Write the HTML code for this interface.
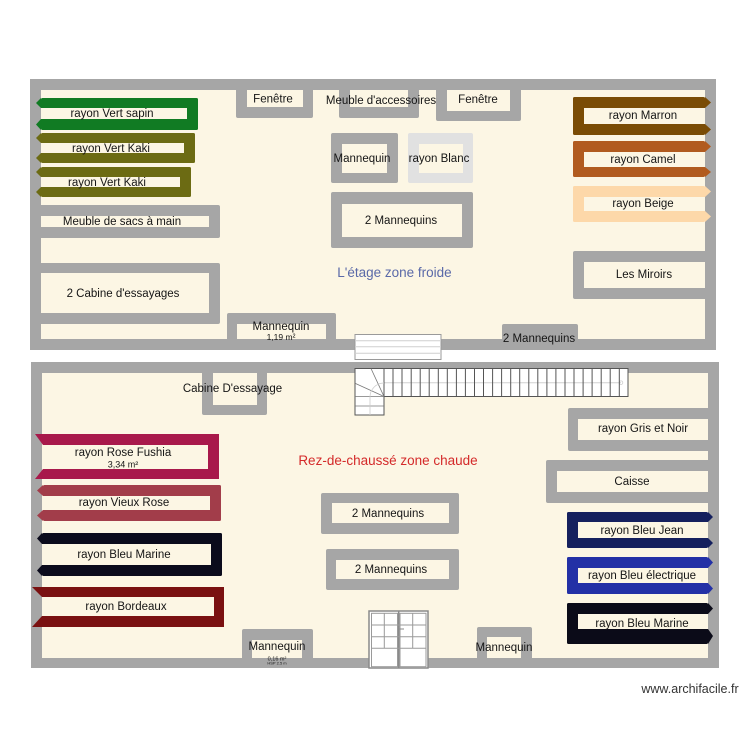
<!DOCTYPE html>
<html><head><meta charset="utf-8"><style>
html,body{margin:0;padding:0;background:#fff;}
svg{display:block;}
text{font-family:"Liberation Sans",Arial,sans-serif;fill:#151515;text-anchor:middle;}
</style></head><body>
<svg width="750" height="750" viewBox="0 0 750 750" xmlns="http://www.w3.org/2000/svg">
<rect width="750" height="750" fill="#fff"/>
<!-- UPPER FLOOR -->
<rect x="30" y="79" width="686" height="271" fill="#a6a6a6"/>
<rect x="41" y="90" width="664" height="249" fill="#fcf6e4"/>
<!-- windows / furniture top -->
<rect x="236" y="79" width="77" height="39" rx="2" fill="#a6a6a6"/>
<rect x="247" y="90" width="56" height="17" fill="#fcf6e4"/>
<text x="273" y="102.5" font-size="11.5">Fenêtre</text>
<rect x="339" y="79" width="80" height="39" rx="2" fill="#a6a6a6"/>
<rect x="350" y="90" width="58" height="17" fill="#fcf6e4"/>
<text x="381" y="104" font-size="11.5">Meuble d'accessoires</text>
<rect x="436" y="79" width="85" height="42" rx="2" fill="#a6a6a6"/>
<rect x="447" y="90" width="63" height="21" fill="#fcf6e4"/>
<text x="478" y="103" font-size="11.5">Fenêtre</text>
<!-- center -->
<rect x="331" y="133" width="67" height="50" rx="2" fill="#a6a6a6"/>
<rect x="342" y="144" width="45" height="29" fill="#fcf6e4"/>
<text x="362" y="162" font-size="11.5">Mannequin</text>
<rect x="408" y="133" width="65" height="50" rx="2" fill="#e1e1e1"/>
<rect x="419" y="144" width="44" height="29" fill="#fcf6e4"/>
<text x="439" y="162" font-size="11.5">rayon Blanc</text>
<rect x="331" y="192" width="142" height="56" rx="2" fill="#a6a6a6"/>
<rect x="342" y="204" width="120" height="33" fill="#fcf6e4"/>
<text x="401" y="224" font-size="11.5">2 Mannequins</text>
<!-- left rayons -->
<rect x="41" y="98" width="157" height="32" rx="1.5" fill="#117b23"/>
<rect x="41" y="108" width="146" height="11" fill="#fcf6e4"/>
<polygon points="41,98 36,103 41,108" fill="#117b23"/><polygon points="41,119 36,124.5 41,130" fill="#117b23"/>
<text x="112" y="117" font-size="11.5">rayon Vert sapin</text>
<rect x="41" y="133" width="154" height="30" rx="1.5" fill="#6c6b13"/>
<rect x="41" y="143" width="143" height="10" fill="#fcf6e4"/>
<polygon points="41,133 36,138 41,143" fill="#6c6b13"/><polygon points="41,153 36,158 41,163" fill="#6c6b13"/>
<text x="111" y="152" font-size="11.5">rayon Vert Kaki</text>
<rect x="41" y="167" width="150" height="30" rx="1.5" fill="#6c6b13"/>
<rect x="41" y="177" width="139" height="10" fill="#fcf6e4"/>
<polygon points="41,167 36,172 41,177" fill="#6c6b13"/><polygon points="41,187 36,192 41,197" fill="#6c6b13"/>
<text x="107" y="186" font-size="11.5">rayon Vert Kaki</text>
<rect x="30" y="205" width="190" height="33" rx="2" fill="#a6a6a6"/>
<rect x="41" y="216" width="168" height="11" fill="#fcf6e4"/>
<text x="122" y="225" font-size="11.5">Meuble de sacs à main</text>
<rect x="30" y="263" width="190" height="61" rx="2" fill="#a6a6a6"/>
<rect x="41" y="273" width="168" height="40" fill="#fcf6e4"/>
<text x="123" y="297" font-size="11.5">2 Cabine d'essayages</text>
<rect x="227" y="313" width="109" height="30" rx="2" fill="#a6a6a6"/>
<rect x="237" y="324" width="89" height="15" fill="#fcf6e4"/>
<text x="281" y="330" font-size="11.5">Mannequin</text>
<text x="281" y="340" font-size="8.5">1,19 m²</text>
<text x="394.5" y="277" font-size="13.5" style="fill:#5a69a8">L'étage zone froide</text>
<!-- right rayons -->
<rect x="573" y="97" width="132" height="38" rx="1.5" fill="#7a4c05"/>
<rect x="584" y="108" width="121" height="16" fill="#fcf6e4"/>
<polygon points="705,97 711,102.5 705,108" fill="#7a4c05"/><polygon points="705,124 711,129.5 705,135" fill="#7a4c05"/>
<text x="643" y="119" font-size="11.5">rayon Marron</text>
<rect x="573" y="141" width="132" height="36" rx="1.5" fill="#b15b1f"/>
<rect x="584" y="152" width="121" height="15" fill="#fcf6e4"/>
<polygon points="705,141 711,146.5 705,152" fill="#b15b1f"/><polygon points="705,167 711,172 705,177" fill="#b15b1f"/>
<text x="643" y="163" font-size="11.5">rayon Camel</text>
<rect x="573" y="186" width="132" height="36" rx="1.5" fill="#fdd8a9"/>
<rect x="584" y="197" width="121" height="14" fill="#fcf6e4"/>
<polygon points="705,186 711,191.5 705,197" fill="#fdd8a9"/><polygon points="705,211 711,216.5 705,222" fill="#fdd8a9"/>
<text x="643" y="207" font-size="11.5">rayon Beige</text>
<rect x="573" y="251" width="143" height="48" rx="2" fill="#a6a6a6"/>
<rect x="584" y="262" width="121" height="26" fill="#fcf6e4"/>
<text x="644" y="278" font-size="11.5">Les Miroirs</text>
<rect x="502" y="324" width="76" height="19" rx="2" fill="#a6a6a6"/>
<text x="539" y="342" font-size="11.5">2 Mannequins</text>
<!-- LOWER FLOOR -->
<rect x="31" y="362" width="688" height="306" fill="#a6a6a6"/>
<rect x="42" y="373" width="666" height="285" fill="#fcf6e4"/>
<!-- top stairs block -->
<rect x="355" y="334.5" width="86" height="25" fill="#fff" stroke="#9a9a9a" stroke-width="1"/>
<g stroke="#cfcfcf" stroke-width="1"><line x1="355" y1="340.7" x2="441" y2="340.7"/><line x1="355" y1="346.7" x2="441" y2="346.7"/><line x1="355" y1="353.3" x2="441" y2="353.3"/></g>
<!-- stairs -->
<rect x="384" y="368.5" width="244" height="28" fill="#fff" stroke="#555" stroke-width="1"/>
<line x1="384" y1="382.7" x2="621" y2="382.7" stroke="#d0d0d0" stroke-width="1"/>
<circle cx="621" cy="382.7" r="1.8" fill="none" stroke="#ccc" stroke-width="0.8"/>
<g stroke="#555" stroke-width="1">
<line x1="393" y1="368.5" x2="393" y2="396.5"/><line x1="402" y1="368.5" x2="402" y2="396.5"/><line x1="411.2" y1="368.5" x2="411.2" y2="396.5"/><line x1="420.2" y1="368.5" x2="420.2" y2="396.5"/><line x1="429.2" y1="368.5" x2="429.2" y2="396.5"/><line x1="438.3" y1="368.5" x2="438.3" y2="396.5"/><line x1="447.3" y1="368.5" x2="447.3" y2="396.5"/><line x1="456.4" y1="368.5" x2="456.4" y2="396.5"/><line x1="465.4" y1="368.5" x2="465.4" y2="396.5"/><line x1="474.5" y1="368.5" x2="474.5" y2="396.5"/><line x1="483.5" y1="368.5" x2="483.5" y2="396.5"/><line x1="492.6" y1="368.5" x2="492.6" y2="396.5"/><line x1="501.6" y1="368.5" x2="501.6" y2="396.5"/><line x1="510.7" y1="368.5" x2="510.7" y2="396.5"/><line x1="519.7" y1="368.5" x2="519.7" y2="396.5"/><line x1="528.8" y1="368.5" x2="528.8" y2="396.5"/><line x1="537.8" y1="368.5" x2="537.8" y2="396.5"/><line x1="546.9" y1="368.5" x2="546.9" y2="396.5"/><line x1="555.9" y1="368.5" x2="555.9" y2="396.5"/><line x1="565" y1="368.5" x2="565" y2="396.5"/><line x1="574" y1="368.5" x2="574" y2="396.5"/><line x1="583.1" y1="368.5" x2="583.1" y2="396.5"/><line x1="592.1" y1="368.5" x2="592.1" y2="396.5"/><line x1="601.2" y1="368.5" x2="601.2" y2="396.5"/><line x1="610.2" y1="368.5" x2="610.2" y2="396.5"/><line x1="619.3" y1="368.5" x2="619.3" y2="396.5"/>
</g>
<rect x="355" y="368.5" width="29" height="46.5" fill="#fff" stroke="#555" stroke-width="1"/>
<g stroke="#777" stroke-width="0.8">
<line x1="371" y1="368.5" x2="384" y2="396.5"/><line x1="355" y1="383.3" x2="384" y2="396.5"/>
<line x1="355" y1="396.5" x2="384" y2="396.5"/><line x1="355" y1="406" x2="384" y2="406"/>
</g>
<path d="M384,383 A14,14 0 0 0 370,397 L370,415" fill="none" stroke="#ccc" stroke-width="0.8"/>
<!-- lower left -->
<rect x="202" y="362" width="65" height="53" rx="2" fill="#a6a6a6"/>
<rect x="213" y="373" width="44" height="32" fill="#fcf6e4"/>
<text x="232.5" y="392" font-size="11.5">Cabine D'essayage</text>
<polygon points="35,434 219,434 219,479 35,479 43,469 43,445" fill="#a8194b"/>
<rect x="43" y="445" width="165" height="24" fill="#fcf6e4"/>
<text x="123" y="456" font-size="11.5">rayon Rose Fushia</text>
<text x="123" y="467.5" font-size="9">3,34 m²</text>
<rect x="43" y="485" width="178" height="36" rx="1.5" fill="#a23d4a"/>
<rect x="43" y="496" width="167" height="14" fill="#fcf6e4"/>
<polygon points="43,485 37,490.5 43,496" fill="#a23d4a"/><polygon points="43,510 37,515.5 43,521" fill="#a23d4a"/>
<text x="124" y="506" font-size="11.5">rayon Vieux Rose</text>
<rect x="42" y="533" width="180" height="43" rx="1.5" fill="#0b0b1c"/>
<rect x="42" y="544" width="169" height="21" fill="#fcf6e4"/>
<polygon points="42,533 37,538.5 42,544" fill="#0b0b1c"/><polygon points="42,565 37,570.5 42,576" fill="#0b0b1c"/>
<text x="124" y="558" font-size="11.5">rayon Bleu Marine</text>
<polygon points="32,587 224,587 224,627 32,627 42,616 42,597" fill="#7a1111"/>
<rect x="42" y="597" width="172" height="19" fill="#fcf6e4"/>
<text x="126" y="610" font-size="11.5">rayon Bordeaux</text>
<rect x="242" y="629" width="71" height="32" rx="2" fill="#a6a6a6"/>
<rect x="252" y="640" width="50" height="18" fill="#fcf6e4"/>
<text x="277" y="650" font-size="11.5">Mannequin</text>
<text x="277" y="660.5" font-size="5.5">0,16 m²</text>
<text x="277" y="664.5" font-size="4">HSP 2.5 m</text>
<!-- center lower -->
<text x="388" y="465" font-size="13.5" style="fill:#d42a2a">Rez-de-chaussé zone chaude</text>
<rect x="321" y="493" width="138" height="41" rx="2" fill="#a6a6a6"/>
<rect x="332" y="503" width="117" height="20" fill="#fcf6e4"/>
<text x="388" y="517" font-size="11.5">2 Mannequins</text>
<rect x="326" y="549" width="133" height="41" rx="2" fill="#a6a6a6"/>
<rect x="336" y="560" width="113" height="19" fill="#fcf6e4"/>
<text x="391" y="573" font-size="11.5">2 Mannequins</text>
<!-- door -->
<rect x="369" y="611" width="59" height="57" fill="#fff" stroke="#8a8a8a" stroke-width="1.5"/>
<line x1="398.7" y1="611" x2="398.7" y2="668" stroke="#8a8a8a" stroke-width="1.5"/>
<g stroke="#9a9a9a" stroke-width="1" fill="none">
<rect x="371.5" y="613.3" width="26" height="53.4"/>
<rect x="400" y="613.3" width="26" height="53.4"/>
<line x1="371.5" y1="625" x2="426" y2="625"/><line x1="371.5" y1="636.7" x2="426" y2="636.7"/><line x1="371.5" y1="648.3" x2="426" y2="648.3"/>
<line x1="384.3" y1="613.3" x2="384.3" y2="648.3"/><line x1="412.7" y1="613.3" x2="412.7" y2="648.3"/>
</g>
<line x1="399.5" y1="629" x2="404" y2="629" stroke="#888" stroke-width="1"/>
<rect x="477" y="627" width="55" height="34" rx="2" fill="#a6a6a6"/>
<rect x="487" y="637" width="34" height="21" fill="#fcf6e4"/>
<text x="504" y="651" font-size="11.5">Mannequin</text>
<!-- right lower -->
<rect x="568" y="408" width="151" height="43" rx="2" fill="#a6a6a6"/>
<rect x="578" y="419" width="130" height="21" fill="#fcf6e4"/>
<text x="643" y="432" font-size="11.5">rayon Gris et Noir</text>
<rect x="546" y="460" width="173" height="43" rx="2" fill="#a6a6a6"/>
<rect x="557" y="471" width="151" height="21" fill="#fcf6e4"/>
<text x="632" y="485" font-size="11.5">Caisse</text>
<rect x="567" y="512" width="141" height="36" rx="1.5" fill="#15205e"/>
<rect x="578" y="522" width="130" height="16" fill="#fcf6e4"/>
<polygon points="708,512 713,517 708,522" fill="#15205e"/><polygon points="708,538 713,543 708,548" fill="#15205e"/>
<text x="642" y="534" font-size="11.5">rayon Bleu Jean</text>
<rect x="567" y="557" width="141" height="37" rx="1.5" fill="#2330a6"/>
<rect x="578" y="568" width="130" height="15" fill="#fcf6e4"/>
<polygon points="708,557 713,562.5 708,568" fill="#2330a6"/><polygon points="708,583 713,588.5 708,594" fill="#2330a6"/>
<text x="642" y="579" font-size="11.5">rayon Bleu électrique</text>
<rect x="567" y="603" width="141" height="41" rx="1.5" fill="#0b0b18"/>
<rect x="578" y="614" width="130" height="15" fill="#fcf6e4"/>
<polygon points="708,603 713,608.5 708,614" fill="#0b0b18"/><polygon points="708,629 713,636 708,644" fill="#0b0b18"/>
<text x="642" y="627" font-size="11.5">rayon Bleu Marine</text>
<text x="690" y="693" font-size="12.5" style="fill:#333">www.archifacile.fr</text>
</svg>
</body></html>
